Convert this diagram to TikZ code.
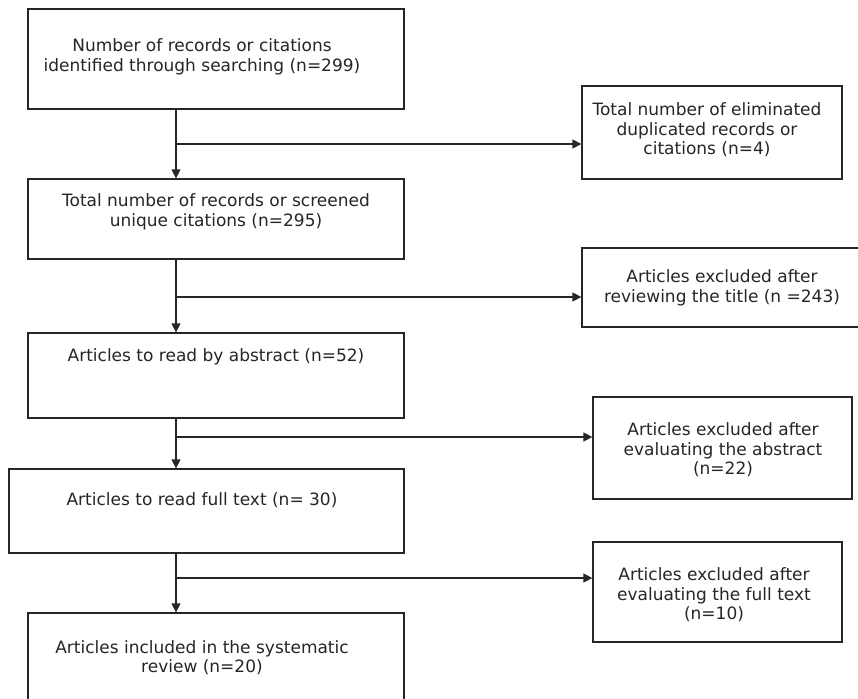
\documentclass[tikz,border=0pt]{standalone}
\usepackage{fontspec}
\setmainfont{DejaVu Sans}
\usetikzlibrary{arrows.meta}
\begin{document}
\begin{tikzpicture}[x=1pt,y=-1pt,
  box/.style={draw=black!85, line width=1.3pt, rectangle, inner sep=0pt},
  txt/.style={align=center, inner sep=0pt, text=black!85, font=\fontsize{17}{19.5}\selectfont},
  conn/.style={draw=black!85, line width=1.3pt},
  arr/.style={conn, -{Triangle[length=9pt,width=9pt]}}]
\useasboundingbox (0,0) rectangle (858,698);
\clip (0,0) rectangle (858,698);
\fill[white] (0,0) rectangle (858,698);
% left column boxes
\node[box, minimum width=376pt, minimum height=100pt] (b1) at (216,59) {};
\node[txt] (t1) at (202,57) {Number of records or citations\\identified through searching (n=299)};
\node[box, minimum width=376pt, minimum height=80pt] (b2) at (216,219) {};
\node[txt] (t2) at (216,212) {Total number of records or screened\\unique citations (n=295)};
\node[box, minimum width=376pt, minimum height=85pt] (b3) at (216,375.5) {};
\node[txt] (t3) at (216,357) {Articles to read by abstract (n=52)};
\node[box, minimum width=395pt, minimum height=84pt] (b4) at (206.5,511) {};
\node[txt] (t4) at (202,500) {Articles to read full text (n= 30)};
\node[box, minimum width=376pt, minimum height=120pt] (b5) at (216,673) {};
\node[txt] (t5) at (202,657.5) {Articles included in the systematic\\review (n=20)};
% right column boxes
\node[box, minimum width=260pt, minimum height=93pt] (r1) at (712,132.5) {};
\node[txt] (s1) at (707,130) {Total number of eliminated\\duplicated records or\\citations (n=4)};
\node[box, minimum width=282pt, minimum height=79pt] (r2) at (723,287.5) {};
\node[txt] (s2) at (722,288) {Articles excluded after\\reviewing the title (n =243)};
\node[box, minimum width=259pt, minimum height=102pt] (r3) at (722.5,448) {};
\node[txt] (s3) at (723,450) {Articles excluded after\\evaluating the abstract\\(n=22)};
\node[box, minimum width=249pt, minimum height=100pt] (r4) at (717.5,592) {};
\node[txt] (s4) at (714,595) {Articles excluded after\\evaluating the full text\\(n=10)};
% branch points
\coordinate (c1) at (176,144);
\coordinate (c2) at (176,297);
\coordinate (c3) at (176,437);
\coordinate (c4) at (176,578);
% connectors
\draw[arr] (b1.south -| c1) -- (b2.north -| c1);
\draw[arr] (b2.south -| c2) -- (b3.north -| c2);
\draw[arr] (b3.south -| c3) -- (b4.north -| c3);
\draw[arr] (b4.south -| c4) -- (b5.north -| c4);
\draw[arr] (c1) -- (c1 -| r1.west);
\draw[arr] (c2) -- (c2 -| r2.west);
\draw[arr] (c3) -- (c3 -| r3.west);
\draw[arr] (c4) -- (c4 -| r4.west);
\end{tikzpicture}
\end{document}
